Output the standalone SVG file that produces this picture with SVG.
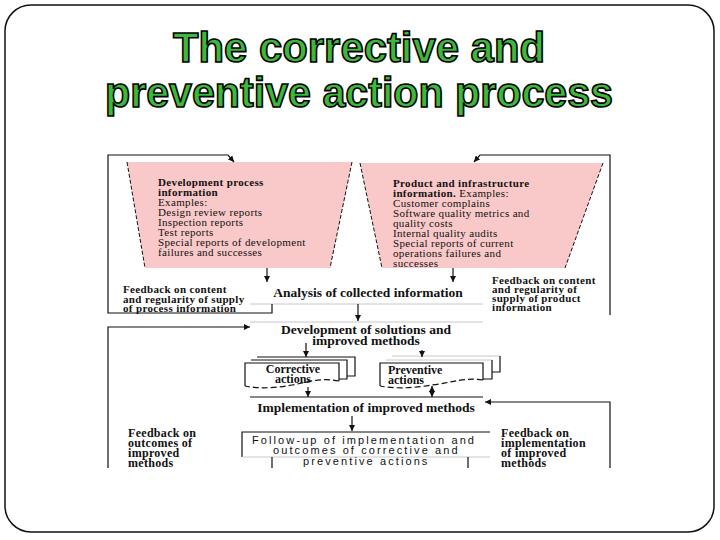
<svg xmlns="http://www.w3.org/2000/svg" width="720" height="540" viewBox="0 0 720 540">
<style>
.title{font-family:"Liberation Sans",Arial,sans-serif;font-weight:bold;font-size:42px;fill:#3cb83c;stroke:#000;stroke-width:1.6px;}
.t{font-family:"Liberation Serif","Times New Roman",serif;font-size:12px;fill:#111;}
.f{font-size:11px;letter-spacing:0.35px;}
.b{font-weight:bold;}
.m{font-size:13.5px;}
.s{font-family:"Liberation Sans",Arial,sans-serif;font-size:11px;letter-spacing:2.1px;fill:#111;}
.funnel{fill:#f9c9c9;stroke:none;}
.fside{fill:none;stroke:#111;stroke-width:1;stroke-dasharray:4 2;}
.ln{fill:none;stroke:#111;stroke-width:1.2;}
.gr{fill:none;stroke:#c8c8c8;stroke-width:1;}
.doc{fill:#fff;stroke:#111;stroke-width:1.2;}
.dash{fill:none;stroke:#111;stroke-width:1.2;stroke-dasharray:6 3;}
</style>
<defs>
<marker id="ah" viewBox="0 0 6 6" refX="6" refY="3" markerWidth="6" markerHeight="6" markerUnits="userSpaceOnUse" orient="auto-start-reverse">
<path d="M0,0 L6,3 L0,6 z" fill="#111"/>
</marker>
</defs>
<rect x="5" y="5" width="709" height="527" rx="26" ry="26" fill="#fff" stroke="#111" stroke-width="1.5"/>
<text class="title" x="359" y="62" text-anchor="middle" textLength="372" lengthAdjust="spacingAndGlyphs">The corrective and</text>
<text class="title" x="359" y="107" text-anchor="middle" textLength="508" lengthAdjust="spacingAndGlyphs">preventive action process</text>

<g id="funnel-left">
<polygon class="funnel" points="127,162 352,162 330,268 145,268"/>
<line class="fside" x1="127" y1="162" x2="145" y2="268"/>
<line class="fside" x1="352" y1="162" x2="330" y2="268"/>
<text class="t f" x="158" y="186"><tspan class="b">Development process</tspan><tspan class="b" x="158" dy="10">information</tspan><tspan x="158" dy="10">Examples:</tspan><tspan x="158" dy="10">Design review reports</tspan><tspan x="158" dy="10">Inspection reports</tspan><tspan x="158" dy="10">Test reports</tspan><tspan x="158" dy="10">Special reports of development</tspan><tspan x="158" dy="10">failures and successes</tspan></text>
</g>

<g id="funnel-right">
<polygon class="funnel" points="360,163 603,163 565,268 382,268"/>
<line class="fside" x1="360" y1="163" x2="382" y2="268"/>
<line class="fside" x1="603" y1="163" x2="565" y2="268"/>
<text class="t f" x="393" y="187"><tspan class="b">Product and infrastructure</tspan><tspan x="393" dy="10"><tspan class="b">information.</tspan> Examples:</tspan><tspan x="393" dy="10">Customer complains</tspan><tspan x="393" dy="10">Software quality metrics and</tspan><tspan x="393" dy="10">quality costs</tspan><tspan x="393" dy="10">Internal quality audits</tspan><tspan x="393" dy="10">Special reports of current</tspan><tspan x="393" dy="10">operations failures and</tspan><tspan x="393" dy="9.5">successes</tspan></text>
</g>

<g id="feedback-process">
<text class="t b f" x="123" y="293"><tspan>Feedback on content</tspan><tspan x="123" dy="9.5">and regularity of supply</tspan><tspan x="123" dy="9.5">of process information</tspan></text>
</g>
<g id="feedback-product">
<text class="t b f" x="492" y="284"><tspan>Feedback on content</tspan><tspan x="492" dy="9">and regularity of</tspan><tspan x="492" dy="9">supply of product</tspan><tspan x="492" dy="9">information</tspan></text>
</g>

<g id="analysis">
<line class="gr" x1="250" y1="304" x2="483" y2="304"/>
<text class="t b m" x="368" y="297" text-anchor="middle">Analysis of collected information</text>
</g>

<g id="development">
<line class="gr" x1="250" y1="322" x2="483" y2="322"/>
<text class="t b m" x="366" y="334" text-anchor="middle"><tspan>Development of solutions and</tspan><tspan x="366" dy="11">improved methods</tspan></text>
</g>

<g id="corrective">
<path class="doc" d="M257,357 H355 V376 H347"/>
<path class="doc" d="M251,360 H347 V379 H339"/>
<path fill="#fff" stroke="none" d="M245,363 H339 V381 C320,377 305,383 292,385 C276,388 260,389 245,386 Z"/>
<path class="ln" d="M245,386 V363 H339 V381"/>
<path class="dash" d="M339,381 C320,377 305,383 292,385 C276,388 260,389 245,386"/>
<text class="t b" x="293" y="373" text-anchor="middle" font-size="13"><tspan>Corrective</tspan><tspan x="293" dy="10">actions</tspan></text>
</g>

<g id="preventive">
<path class="gr" d="M392,356 H500 M386,360 H492"/>
<path class="ln" d="M500,356 V372 H492 M492,360 V379 H483"/>
<path fill="#fff" stroke="none" d="M380,363 H483 V380 C465,377 450,383 432,385 C414,388 397,389 380,386 Z"/>
<path class="ln" d="M380,386 V363 H483 V380"/>
<path class="dash" d="M483,380 C465,377 450,383 432,385 C414,388 397,389 380,386"/>
<text class="t b" x="388" y="374" font-size="13"><tspan>Preventive</tspan><tspan x="388" dy="10">actions</tspan></text>
</g>

<g id="implementation">
<line class="ln" x1="250" y1="397" x2="483" y2="397"/>
<text class="t b m" x="366" y="412" text-anchor="middle">Implementation of improved methods</text>
</g>

<g id="followup">
<path class="ln" d="M242,457 V432 H490"/>
<line class="gr" x1="242" y1="457" x2="490" y2="457"/>
<path class="ln" d="M272,457 V468 M468,457 V468"/>
<text class="s" x="252" y="444">Follow-up of implementation and</text>
<text class="s" x="273" y="454">outcomes of corrective and</text>
<text class="s" x="303" y="465">preventive actions</text>
</g>

<g id="feedback-outcomes">
<text class="t b" x="128" y="437" font-size="12.5" letter-spacing="0.3"><tspan>Feedback on</tspan><tspan x="128" dy="10">outcomes of</tspan><tspan x="128" dy="10">improved</tspan><tspan x="128" dy="10">methods</tspan></text>
</g>
<g id="feedback-implementation">
<text class="t b" x="501" y="437" font-size="12.5" letter-spacing="0.3"><tspan>Feedback on</tspan><tspan x="501" dy="10">implementation</tspan><tspan x="501" dy="10">of improved</tspan><tspan x="501" dy="10">methods</tspan></text>
</g>

<g id="connectors">
<polyline class="ln" points="272,304 272,313 108,313 108,155 228,155 234,162" marker-end="url(#ah)"/>
<polyline class="ln" points="610,315 610,155 480,155 474,162" marker-end="url(#ah)"/>
<line class="ln" x1="267" y1="268" x2="267" y2="282" marker-end="url(#ah)"/>
<line class="ln" x1="453" y1="268" x2="453" y2="282" marker-end="url(#ah)"/>
<line class="ln" x1="358" y1="304" x2="358" y2="321" marker-end="url(#ah)"/>
<polyline class="ln" points="108,468 108,327 250,327" marker-end="url(#ah)"/>
<line class="ln" x1="306" y1="343" x2="306" y2="357" marker-end="url(#ah)"/>
<line class="ln" x1="422" y1="350" x2="422" y2="357" marker-end="url(#ah)"/>
<line class="ln" x1="308" y1="387" x2="308" y2="397" marker-end="url(#ah)"/>
<line class="ln" x1="432" y1="386" x2="432" y2="397" marker-start="url(#ah)" marker-end="url(#ah)"/>
<line class="ln" x1="352" y1="416" x2="352" y2="431" marker-end="url(#ah)"/>
<polyline class="ln" points="610,468 610,402 485,402" marker-end="url(#ah)"/>
</g>
</svg>
